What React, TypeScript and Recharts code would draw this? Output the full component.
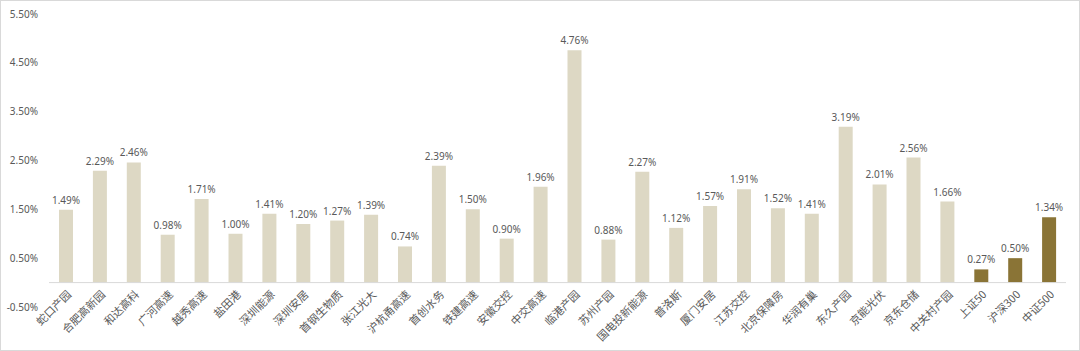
import { BarChart, Bar, XAxis, YAxis, Cell, LabelList, ReferenceLine } from 'recharts'

const CATEGORIES = [
  '蛇口产园', '合肥高新园', '和达高科', '广河高速', '越秀高速', '盐田港', '深圳能源', '深圳安居',
  '首钢生物质', '张江光大', '沪杭甬高速', '首创水务', '铁建高速', '安徽交控', '中交高速', '临港产园',
  '苏州产园', '国电投新能源', '普洛斯', '厦门安居', '江苏交控', '北京保障房', '华润有巢', '东久产园',
  '京能光伏', '京东仓储', '中关村产园', '上证50', '沪深300', '中证500',
]

const VALUES = [
  1.49, 2.29, 2.46, 0.98, 1.71, 1.0, 1.41, 1.2,
  1.27, 1.39, 0.74, 2.39, 1.5, 0.9, 1.96, 4.76,
  0.88, 2.27, 1.12, 1.57, 1.91, 1.52, 1.41, 3.19,
  2.01, 2.56, 1.66, 0.27, 0.5, 1.34,
]

// 指数基准，用深色显示
const BENCHMARKS = ['上证50', '沪深300', '中证500']

const Y_TICKS = [-0.5, 0.5, 1.5, 2.5, 3.5, 4.5, 5.5]

const LIGHT = '#DDD8C4'
const DARK = '#8A7436'
const TEXT = '#595959'

const data = CATEGORIES.map((name, i) => ({ name, value: VALUES[i] }))

function pct(v: number): string {
  return v.toFixed(2) + '%'
}

function CategoryTick(props: any) {
  const { x, y, payload } = props
  // 标签贴着0轴，而不是图表底部
  const ty = y - 22
  return (
    <text
      x={x + 4}
      y={ty}
      transform={`rotate(-45, ${x + 4}, ${ty})`}
      textAnchor="end"
      dominantBaseline="middle"
      fontSize={11}
      fill={TEXT}
      fontFamily='"Noto Sans CJK SC", sans-serif'
    >
      {payload.value}
    </text>
  )
}

export default function App() {
  return (
    <div
      style={{
        position: 'absolute',
        left: 0,
        top: 0,
        width: 1080,
        height: 351,
        boxSizing: 'border-box',
        border: '1px solid #d9d9d9',
        background: '#fff',
      }}
    >
      <div style={{ position: 'absolute', left: -1, top: -1 }}>
        <BarChart
          width={1080}
          height={351}
          data={data}
          margin={{ top: 14, right: 14, left: 0, bottom: 0 }}
          barSize={14}
        >
          <XAxis
            dataKey="name"
            interval={0}
            axisLine={false}
            tickLine={false}
            height={44}
            tick={<CategoryTick />}
          />
          <YAxis
            domain={[-0.5, 5.5]}
            ticks={Y_TICKS}
            tickFormatter={pct}
            axisLine={false}
            tickLine={false}
            tickMargin={5}
            width={49}
            tick={{ fontSize: 10, fill: TEXT, fontFamily: '"Noto Sans", sans-serif' }}
          />
          <ReferenceLine y={0} stroke="#d9d9d9" strokeWidth={1} />
          <Bar dataKey="value" isAnimationActive={false}>
            {data.map((d, i) => (
              <Cell key={i} fill={BENCHMARKS.includes(d.name) ? DARK : LIGHT} />
            ))}
            <LabelList
              dataKey="value"
              position="top"
              offset={6}
              formatter={(v: number) => pct(v)}
              style={{ fontSize: 10, fill: TEXT, fontFamily: '"Noto Sans", sans-serif' }}
            />
          </Bar>
        </BarChart>
      </div>
    </div>
  )
}
